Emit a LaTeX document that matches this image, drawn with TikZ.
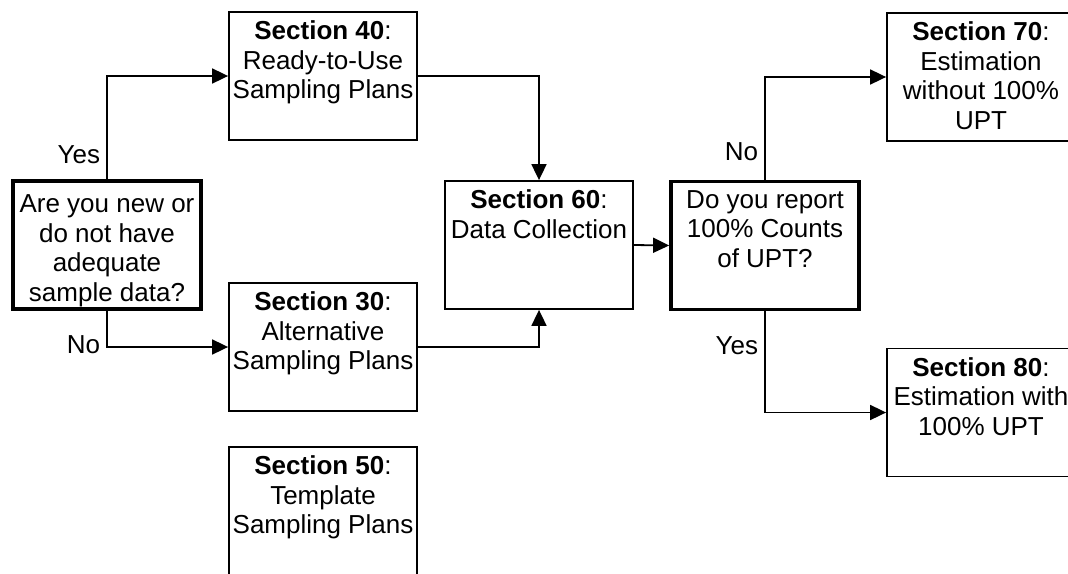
\documentclass[tikz,border=0pt]{standalone}
\usepackage{fontspec}
\setmainfont{Liberation Sans}
\usepackage{tikz}
\usetikzlibrary{arrows.meta}

\newcommand{\boxtext}[1]{\parbox[t][110pt][t]{186pt}{\centering #1}}

\begin{document}
\begin{tikzpicture}[x=1pt,y=-1pt,font=\fontsize{26}{29.5}\selectfont] %% flow chart
	\tikzstyle{box}=[draw,line width=1.8pt,inner sep=0pt,minimum width=188pt,minimum height=128pt]
	\tikzstyle{ask}=[box,line width=3.8pt]
	\tikzstyle{flow}=[line width=1.8pt,-{Triangle[length=16pt,width=15pt]}]
	\tikzstyle{tag}=[inner sep=6pt]
	\useasboundingbox (0,0) rectangle (1068,573);
	% questions
	\node[ask] (new) at (107,245) {\boxtext{\vspace*{5pt}Are you new or\\ do not have\\ adequate\\ sample data?}};
	\node[ask] (rep) at (765,245.5) {\boxtext{Do you report\\ 100\% Counts\\ of UPT?}};
	% sections
	\node[box] (s40) at (323,76) {\boxtext{\textbf{Section 40}:\\ Ready-to-Use\\ Sampling Plans}};
	\node[box] (s30) at (323,347) {\boxtext{\textbf{Section 30}:\\ Alternative\\ Sampling Plans}};
	\node[box] (s50) at (323,511) {\boxtext{\textbf{Section 50}:\\ Template\\ Sampling Plans}};
	\node[box] (s60) at (539,245) {\boxtext{\textbf{Section 60}:\\ Data Collection}};
	\node[box] (s70) at (981,77) {\boxtext{\textbf{Section 70}:\\ Estimation\\ without 100\%\\ UPT}};
	\node[box] (s80) at (981,412.5) {\boxtext{\textbf{Section 80}:\\ Estimation with\\ 100\% UPT}};
	% connectors
	\draw[flow] (new.north) |- node[tag,pos=0.12,left] (yes1) {Yes} (s40.west);
	\draw[flow] (new.south) |- node[tag,pos=0.47,left] (no1) {No} (s30.west);
	\draw[flow] (s40.east) -| (s60.north);
	\draw[flow] (s30.east) -| (s60.south);
	\draw[flow] (s60.east) -- (rep.west);
	\draw[flow] (rep.north) |- node[tag,pos=0.136,left] (no2) {No} (s70.west);
	\draw[flow] (rep.south) |- node[tag,pos=0.17,left] (yes2) {Yes} (s80.west);
\end{tikzpicture}
\end{document}
